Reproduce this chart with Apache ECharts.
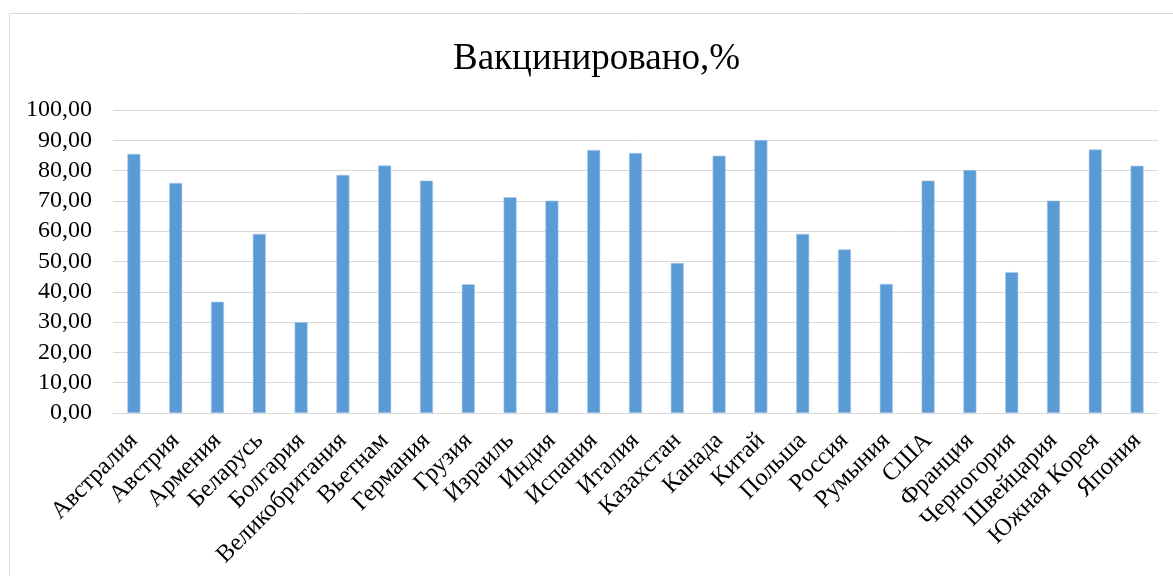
<!DOCTYPE html>
<html>
<head>
<meta charset="utf-8">
<script src="https://cdn.jsdelivr.net/npm/echarts@6/dist/echarts.min.js"></script>
<style>
html,body{margin:0;padding:0;background:#fff;}
#chart{width:1173px;height:576px;}
</style>
</head>
<body>
<div id="chart"></div>
<script>
const categories = ['Австралия','Австрия','Армения','Беларусь','Болгария','Великобритания','Вьетнам','Германия','Грузия','Израиль','Индия','Испания','Италия','Казахстан','Канада','Китай','Польша','Россия','Румыния','США','Франция','Черногория','Швейцария','Южная Корея','Япония'];
const values = [85.5, 75.9, 36.7, 59.1, 30.0, 78.6, 81.7, 76.7, 42.5, 71.2, 70.1, 86.8, 85.8, 49.5, 84.9, 90.1, 59.1, 54.0, 42.6, 76.7, 80.2, 46.5, 70.1, 87.0, 81.6];
const titleText = 'Вакцинировано,%';

const font = '"Liberation Serif", "Times New Roman", serif';
const chart = echarts.init(document.getElementById('chart'), null, {renderer: 'canvas'});
chart.setOption({
  animation: false,
  backgroundColor: '#fff',
  graphic: [{
    type: 'rect',
    shape: {x: 9.5, y: 13.5, width: 1200, height: 600},
    style: {fill: 'none', stroke: '#d9d9d9', lineWidth: 1},
    silent: true
  }],
  title: {
    text: titleText,
    left: 448,
    top: 36,
    textStyle: {fontFamily: font, fontSize: 37, fontWeight: 'normal', color: '#000'}
  },
  grid: {left: 113, right: 15, top: 110, bottom: 163, containLabel: false},
  xAxis: {
    type: 'category',
    data: categories,
    axisLine: {lineStyle: {color: '#d9d9d9', width: 1}},
    axisTick: {show: false},
    axisLabel: {
      rotate: 45,
      interval: 0,
      margin: 24,
      fontFamily: font,
      fontSize: 24.5,
      color: '#000'
    }
  },
  yAxis: {
    type: 'value',
    min: 0,
    max: 100,
    interval: 10,
    axisLine: {show: false},
    axisTick: {show: false},
    splitLine: {lineStyle: {color: '#d9d9d9', width: 1}},
    axisLabel: {
      formatter: v => v.toFixed(2).replace('.', ','),
      margin: 21,
      fontFamily: font,
      fontSize: 24,
      color: '#000'
    }
  },
  series: [{
    type: 'bar',
    data: values,
    barWidth: 13,
    itemStyle: {color: '#5b9bd5', borderColor: '#a9c9ea', borderWidth: 0.6}
  }]
});
</script>
</body>
</html>
